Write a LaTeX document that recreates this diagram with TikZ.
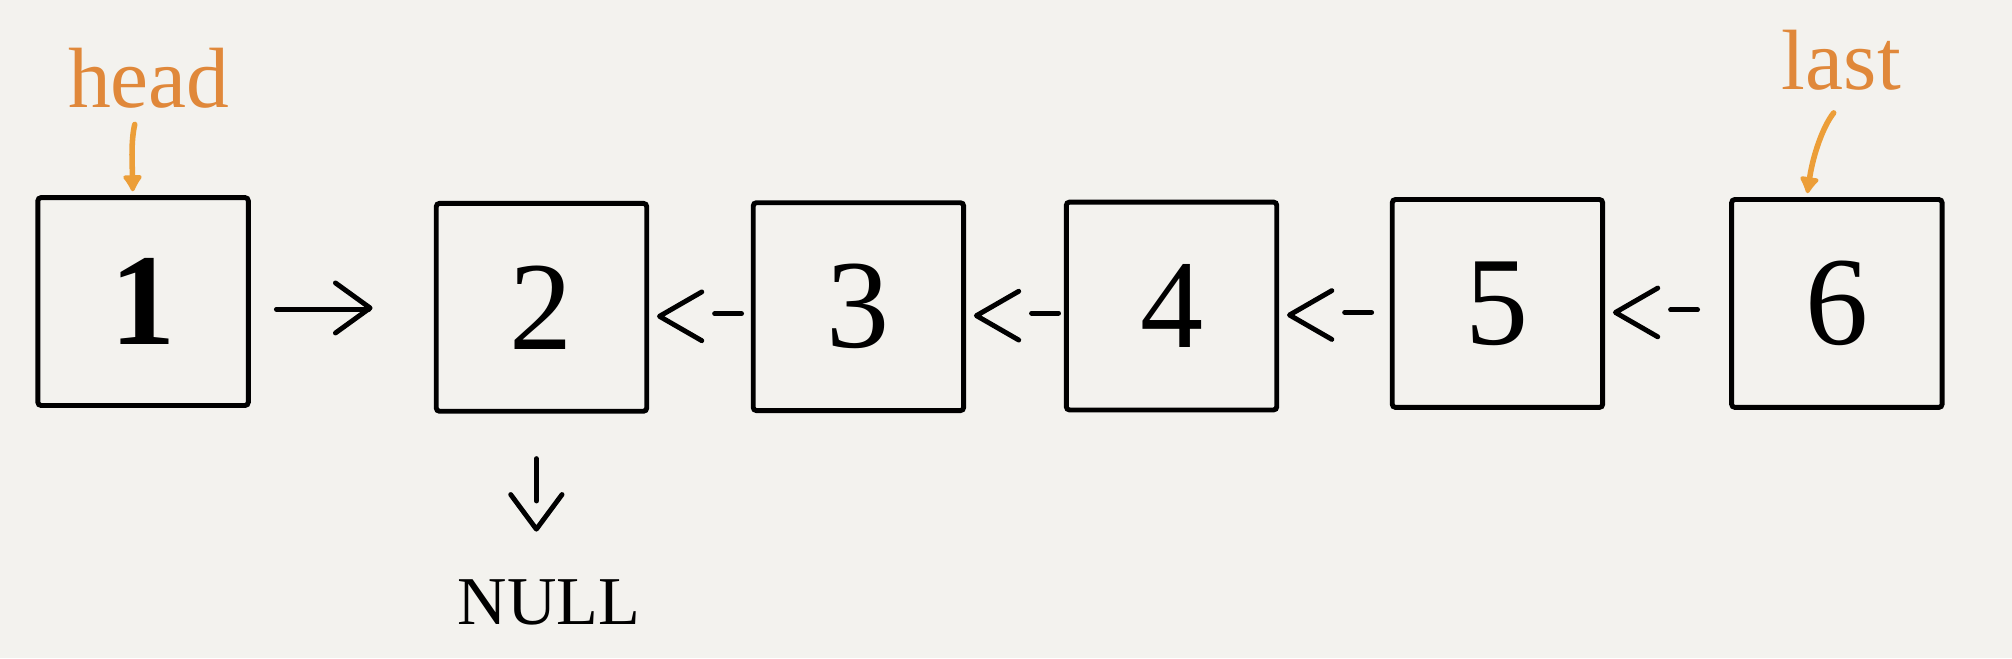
\documentclass[tikz,border=0pt]{standalone}
\usepackage{fontspec}
\setmainfont{Liberation Serif}
\usetikzlibrary{calc,arrows.meta}
\definecolor{paper}{HTML}{F3F2EE}
\definecolor{labelorange}{HTML}{E0883A}
\definecolor{ptrorange}{HTML}{EC9E38}
\begin{document}
\begin{tikzpicture}[x=0.6pt,y=-0.6pt,
  box/.style={draw=black,line width=2.3pt,rounded corners=1.5pt,minimum width=98.4pt,minimum height=97.2pt,inner sep=0pt,font=\fontsize{59}{66}\selectfont},
  conn/.style={draw=black,line width=2.3pt,line cap=round,line join=round},
  lbl/.style={text=labelorange,font=\fontsize{40}{44}\selectfont,inner sep=0pt,anchor=base},
  ptr/.style={draw=ptrorange,line width=2.6pt,line cap=round,-{Latex[length=9pt,width=11pt,round]}}]
\fill[paper] (0,0) rectangle (1568,512.8);
\useasboundingbox (0,0) rectangle (1568,512.8);
% nodes
\node[box] (n1) at (111.5,235) {\bfseries\fontsize{61}{66}\selectfont 1};
\node[box] (n2) at (422,239.5) {2};
\node[box] (n3) at (669,239) {3};
\node[box] (n4) at (913,238.5) {4};
\node[box] (n5) at (1167,236.5) {5};
\node[box] (n6) at (1431.5,236.5) {6};
\node[lbl] (head) at (116,84) {head};
\node[lbl] (last) at (1435,70) {last};
\node[inner sep=0pt,anchor=base,font=\fontsize{32}{36}\selectfont] (null) at (428,487) {NULL};
% pointers
\draw[ptr] ($(head.base)+(-11,13)$) .. controls ($(head.base)+(-14,26)$) and ($(head.base)+(-13,42)$) .. ($(n1.north)+(-8,-3)$);
\draw[ptr] ($(last.base)+(-6,18)$) .. controls ($(last.base)+(-14,28)$) and ($(last.base)+(-22,50)$) .. ($(n6.north)+(-23,-3)$);
% 1 -> 2
\draw[conn] ($(n1.east)+(20,6)$) -- ($(n1.east)+(92,6)$);
\draw[conn] ($(n1.east)+(66,-14.5)$) -- ($(n1.east)+(93,5)$) -- ($(n1.east)+(66,24.5)$);
% <- connectors
\foreach \a/\b in {n2/n3,n3/n4,n4/n5,n5/n6}{
  \draw[conn] ($(\a.east)+(41,-12)$) -- ($(\a.east)+(8,7)$) -- ($(\a.east)+(41,26)$);
  \draw[conn] ($(\a.east)+(51,5)$) -- ($(\a.east)+(72,5)$);
}
% 2 -> NULL
\draw[conn] ($(n2.south)+(-4,35)$) -- ($(n2.south)+(-4,68)$);
\draw[conn] ($(n2.south)+(-24,63)$) -- ($(n2.south)+(-4,90)$) -- ($(n2.south)+(16,63)$);
\end{tikzpicture}
\end{document}
